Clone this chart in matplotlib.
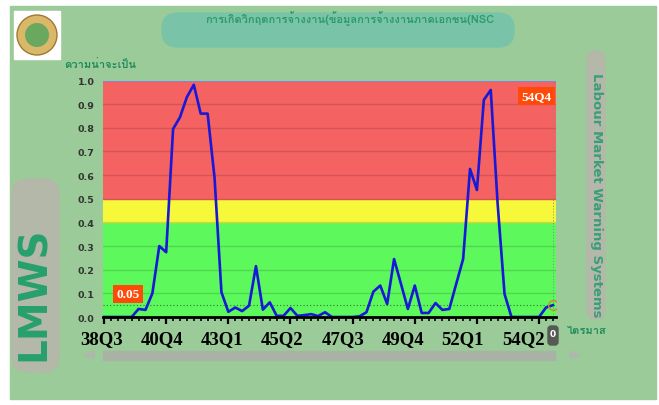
import matplotlib
matplotlib.use("Agg")
import matplotlib.pyplot as plt
import matplotlib.transforms as mtransforms
from matplotlib import font_manager
from matplotlib.ft2font import FT2Font
from matplotlib.patches import FancyBboxPatch, Rectangle, Circle, Polygon
import numpy as np

# data: quarterly probability of an employment crisis, 38Q3 .. 54Q4
start_year, start_q = 38, 3
prob = [0.0, 0.0, 0.0, 0.0, 0.0, 0.034, 0.03, 0.10, 0.30, 0.274,
        0.795, 0.845, 0.93, 0.982, 0.86, 0.86, 0.59, 0.105, 0.022, 0.04,
        0.025, 0.048, 0.215, 0.031, 0.062, 0.005, 0.005, 0.038, 0.005, 0.008,
        0.012, 0.004, 0.02, 0.0, 0.0, 0.0, 0.0, 0.003, 0.02, 0.107,
        0.133, 0.055, 0.245, 0.14, 0.034, 0.133, 0.017, 0.017, 0.059, 0.03,
        0.034, 0.14, 0.245, 0.626, 0.537, 0.918, 0.96, 0.478, 0.097, 0.0,
        0.0, 0.0, 0.0, 0.0, 0.04, 0.05]
zones = [(0.0, 0.4, '#5cf85c'), (0.4, 0.5, '#f8f83a'), (0.5, 1.0, '#f46262')]
threshold = 0.05

quarters = []
y, q = start_year, start_q
for _ in prob:
    quarters.append(f"{y}Q{q}")
    q += 1
    if q > 4:
        q = 1
        y += 1
x = np.arange(len(prob))


def find_thai_font():
    # pick any installed font that has thai glyphs
    names = []
    for f in font_manager.fontManager.ttflist:
        try:
            if ord('ก') in FT2Font(f.fname).get_charmap():
                names.append(f.name)
        except Exception:
            pass
    return names[0] if names else 'DejaVu Sans'


thai = find_thai_font()

W, H = 659, 406
fig = plt.figure(figsize=(W / 100, H / 100), dpi=100)
fig.patch.set_facecolor('white')

# background / decoration layer in pixel coords
bg = fig.add_axes([0, 0, 1, 1])
bg.set_xlim(0, W)
bg.set_ylim(H, 0)
bg.axis('off')
bg.add_patch(Rectangle((10, 7), 646, 393, color='#9bcb98'))
bg.add_patch(FancyBboxPatch((162, 14), 352, 34, boxstyle='round,pad=0,rounding_size=16',
                            color='#79c4a8'))
bg.add_patch(FancyBboxPatch((12, 180), 47, 193, boxstyle='round,pad=0,rounding_size=16',
                            color='#b3b8a9'))
bg.add_patch(FancyBboxPatch((587, 52), 18, 268, boxstyle='round,pad=0,rounding_size=8',
                            color='#b3b8a9'))
# logo placeholder
bg.add_patch(Rectangle((14, 12), 46, 48, color='white'))
bg.add_patch(Circle((37, 36), 20, facecolor='#d9b86a', edgecolor='#a07830', lw=1))
bg.add_patch(Circle((37, 36), 12, facecolor='#6aa860', edgecolor='none'))
# scroll bar
bg.add_patch(Rectangle((103, 352), 452, 9, color='#a8b3a5'))
bg.add_patch(Polygon([[84, 356], [94, 352], [94, 360]], color='#b0b8ad'))
bg.add_patch(Polygon([[580, 356], [570, 352], [570, 360]], color='#b0b8ad'))
bg.add_patch(FancyBboxPatch((548, 327), 10, 19, boxstyle='round,pad=0,rounding_size=3',
                            color='#555a55'))
bg.text(553, 335, '0', color='white', fontsize=6.5, fontweight='bold', ha='center', va='center')

bg.text(350, 19, 'การเกิดวิกฤตการจ้างงาน(ข้อมูลการจ้างงานภาคเอกชน(NSC', family=[thai, 'DejaVu Sans'],
        color='#2a9a68', fontsize=8, fontweight='bold', ha='center', va='center')
bg.text(64, 65, 'ความน่าจะเป็น', family=[thai, 'DejaVu Sans'], color='#1e8a5a',
        fontsize=8, fontweight='bold', ha='left', va='center')
bg.text(587, 331, 'ไตรมาส', family=[thai, 'DejaVu Sans'], color='#1e8a5a',
        fontsize=8, fontweight='bold', ha='center', va='center')
bg.text(596, 195, 'Labour Market Warning Systems', rotation=-90, color='#3a9e7a',
        fontsize=9.5, fontweight='bold', ha='center', va='center')
bg.text(34, 294, 'LMWS', rotation=90, color='#26a06e', fontsize=28, fontweight='bold',
        ha='center', va='center')

# main chart
ax = fig.add_axes([103 / W, 1 - 318 / H, (556 - 103) / W, (318 - 81.5) / H])
ax.set_xlim(-0.15, 65.45)
ax.set_ylim(0, 1)
for lo, hi, c in zones:
    ax.axhspan(lo, hi, color=c, zorder=0)
for v in np.arange(0.1, 1.0, 0.1):
    ax.axhline(v, color='black', alpha=0.13, lw=1, zorder=1)
ax.axhline(1.0, color='#8a7fd0', lw=1.5, zorder=2)
ax.axhline(threshold, color='#2e7d32', lw=0.8, ls=(0, (1, 2)), zorder=2)
ax.axvline(x[-1], color='#888888', lw=0.7, ls=(0, (1, 2)), zorder=2)

ax.plot(x, prob, color='#1818d8', lw=1.9, zorder=3)
ax.plot(x[-1], prob[-1], 'o', ms=7, mfc='none', mec='#d08a2a', mew=1, zorder=4)

ax.text(0.99, 0.935, quarters[-1], transform=ax.transAxes, ha='right', va='center',
        family='Liberation Serif', fontweight='bold', fontsize=9.5, color='white',
        bbox=dict(boxstyle='square,pad=0.25', fc='#ff4a0a', ec='none'))
ax.text(0.03, 0.097, f"{threshold:.2f}", transform=ax.transAxes, ha='left', va='center',
        family='Liberation Serif', fontweight='bold', fontsize=9.5, color='white',
        bbox=dict(boxstyle='square,pad=0.25', fc='#ff4a0a', ec='none'))

ax.set_xticks(x[::9])
ax.set_xticklabels([])
ax.set_xticks(x, minor=True)
ax.tick_params(axis='x', which='major', length=5, width=1.6, color='black')
ax.tick_params(axis='x', which='minor', length=3, width=1.2, color='black')
# category labels drift slightly left of their ticks, as in the original widget
for k, xi in enumerate(x[::9]):
    off = mtransforms.ScaledTranslation(-(2 + 2 * k) / 100, -22 / 100, fig.dpi_scale_trans)
    ax.text(xi, 0, quarters[xi], transform=ax.get_xaxis_transform() + off,
            ha='center', va='center', family='Liberation Serif', fontweight='bold',
            fontsize=13.5, color='black')
ax.set_yticks(np.arange(0, 1.01, 0.1))
ax.set_yticklabels([f"{v:.1f}" for v in np.arange(0, 1.01, 0.1)], fontsize=6.8,
                   fontweight='bold', color='#333333')
ax.tick_params(axis='y', length=0, pad=6)
for s in ['top', 'right', 'left']:
    ax.spines[s].set_visible(False)
ax.spines['bottom'].set_linewidth(2)
ax.spines['bottom'].set_zorder(5)

fig.savefig('out.png', dpi=100, facecolor=fig.get_facecolor())
